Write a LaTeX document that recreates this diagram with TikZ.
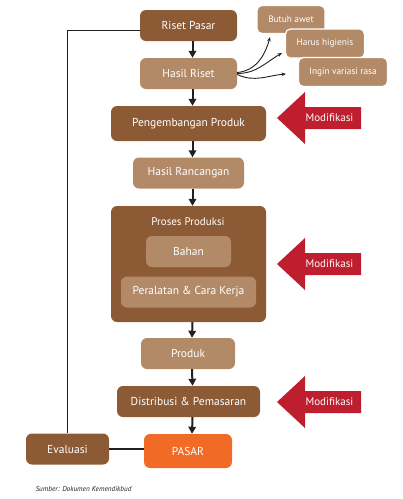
\documentclass[tikz,border=0pt]{standalone}
\usepackage{fontspec}
\setmainfont{PT Sans}
\usetikzlibrary{positioning,arrows.meta}

\definecolor{darkbrown}{HTML}{8C5B36}
\definecolor{lightbrown}{HTML}{B38A68}
\definecolor{pasarorange}{HTML}{F26B26}
\definecolor{modred}{HTML}{BE1E2D}
\definecolor{linkblack}{HTML}{231F20}

\tikzset{
  box/.style={rounded corners=6pt, fill=#1, text=white, minimum height=31pt,
    inner sep=0pt, font=\fontsize{11.5}{13}\selectfont},
  darkbox/.style={box=darkbrown},
  lightbox/.style={box=lightbrown},
  orangebox/.style={box=pasarorange},
  bubble/.style={rounded corners=5pt, fill=lightbrown, draw=white, line width=1.2pt,
    text=white, inner sep=0pt, font=\fontsize{9.3}{10}\selectfont},
  flow/.style={draw=linkblack, line width=2pt, -{Triangle[length=7pt,width=7.5pt]}},
  thinarrow/.style={draw=linkblack, line width=0.9pt, -{Stealth[length=4.5pt,width=3.5pt]}},
  loopline/.style={draw=linkblack, line width=1.9pt},
  modtext/.style={text=white, font=\fontsize{11}{13}\selectfont}
}

\begin{document}
\begin{tikzpicture}[x=1pt, y=1pt]
  \useasboundingbox (0,0) rectangle (403,-499);

  % main flow
  \node[darkbox, minimum width=97pt] (rp) at (188.5,-25.5) {Riset Pasar};
  \node[lightbox, minimum width=97pt] (hr) at (188.5,-73.5) {Hasil Riset};
  \node[darkbox, minimum width=155pt, minimum height=35pt] (pp) at (188.5,-123.5) {Pengembangan Produk};
  \node[lightbox, minimum width=111pt] (hrc) at (188.5,-173) {Hasil Rancangan};
  \node[darkbox, minimum width=155pt, minimum height=116pt] (prs) at (188.5,-264) {};
  \node[modtext] (prst) at (188,-222) {Proses Produksi};
  \node[lightbox, minimum width=85pt] (bhn) at (188.5,-251.5) {Bahan};
  \node[lightbox, minimum width=135pt] (prl) at (188.5,-292) {Peralatan \& Cara Kerja};
  \node[lightbox, minimum width=94pt] (prd) at (188,-353.5) {Produk};
  \node[darkbox, minimum width=143pt] (dst) at (188.5,-401.5) {Distribusi \& Pemasaran};
  \node[orangebox, minimum width=88pt, minimum height=34pt] (psr) at (188,-451) {PASAR};
  \node[darkbox, minimum width=83pt] (evl) at (67.5,-449) {Evaluasi};

  \draw[flow] ([xshift=4pt]rp.south) -- ([xshift=4pt]hr.north);
  \draw[flow] ([xshift=4pt]hr.south) -- ([xshift=4pt]pp.north);
  \draw[flow] ([xshift=4pt]pp.south) -- ([xshift=4pt]hrc.north);
  \draw[flow] ([xshift=4pt]hrc.south) -- ([xshift=4pt]prs.north);
  \draw[flow] ([xshift=4pt]prs.south) -- ([xshift=4pt]prd.north);
  \draw[flow] ([xshift=4pt]prd.south) -- ([xshift=4pt]dst.north);
  \draw[flow] ([xshift=4pt]dst.south) -- ([xshift=4pt]psr.north);

  % evaluasi loop
  \draw[loopline] (evl.east) -- (evl.east -| psr.west);
  \draw[loopline] (evl.north) |- ([yshift=-5pt]rp.west);

  % hasil riset
  \node[bubble, minimum width=68pt, minimum height=28pt] (bta) at (291,-19.5) {Butuh awet};
  \node[bubble, minimum width=79pt, minimum height=29pt] (hhg) at (325,-43.5) {Harus higienis};
  \node[bubble, minimum width=89pt, minimum height=29pt] (ivr) at (343,-72) {Ingin variasi rasa};
  \coordinate (ta) at (270,-37);
  \coordinate (tb) at (282,-53);
  \coordinate (tc) at (286,-74);
  \draw[thinarrow] ([yshift=1pt]hr.east) to[out=5, in=-105] (ta);
  \draw[thinarrow] (hr.east) to[out=0, in=-150] (tb);
  \draw[thinarrow] ([yshift=-1pt]hr.east) to[out=-25, in=185] (tc);

  % modifikasi
  \foreach \yy/\nm in {-118/mda,-264/mdb,-402/mdc}{
    \fill[modred] (277,\yy) -- ++(28,26) -- ++(0,-15) -- ++(56,0) -- ++(0,-22)
      -- ++(-56,0) -- ++(0,-15) -- cycle;
    \node[modtext] (\nm) at (329.5,\yy) {Modifikasi};
  }

  \node[anchor=base west, font=\fontsize{7.2}{8}\selectfont\itshape, text=linkblack] (smb) at (32,-491.5) {Sumber: Dokumen Kemendikbud};
\end{tikzpicture}
\end{document}
